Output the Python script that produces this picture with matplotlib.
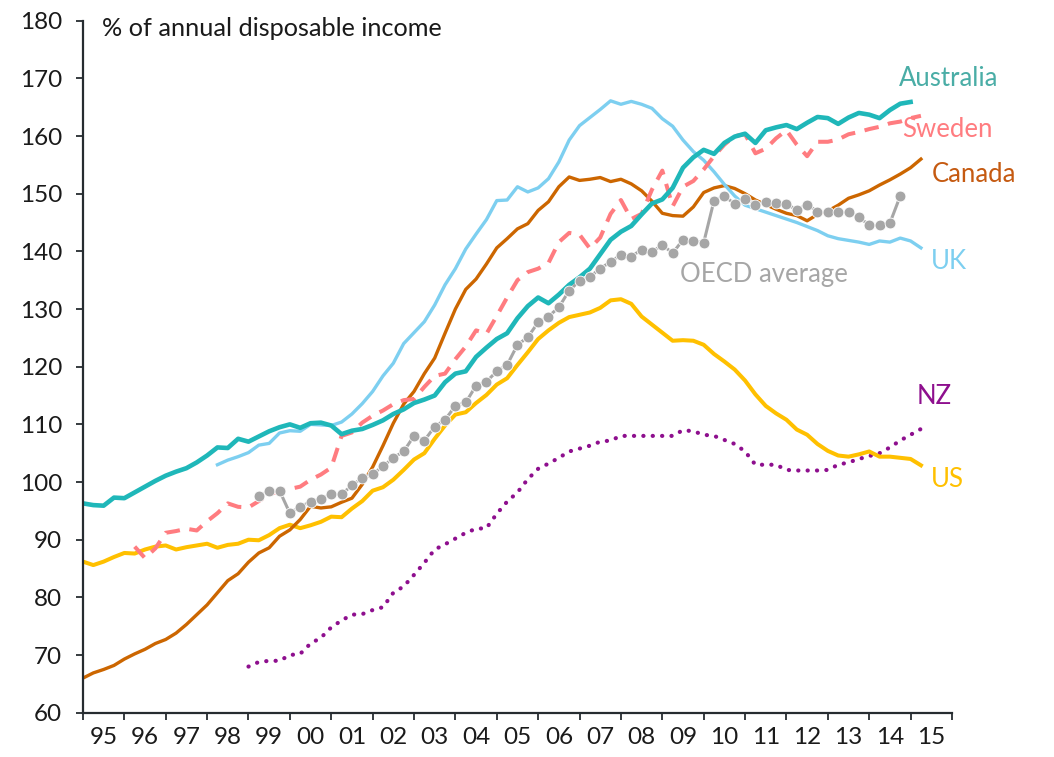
import matplotlib
matplotlib.use("Agg")
import matplotlib.pyplot as plt
import matplotlib.ticker as ticker
import numpy as np

plt.rcParams['font.family'] = ['Lato', 'DejaVu Sans']

# quarterly data, first quarter of each series given by its start year
australia_start = 1995.0
australia = [96.3, 96.0, 95.9, 97.3, 97.2, 98.2, 99.2, 100.2, 101.1, 101.8, 102.4, 103.4,
             104.6, 106.0, 105.9, 107.5, 107.0, 107.9, 108.8, 109.5, 110.0, 109.4, 110.2, 110.3,
             109.8, 108.3, 108.9, 109.2, 109.9, 110.7, 111.8, 112.6, 113.7, 114.3, 115.0, 117.3,
             118.8, 119.2, 121.7, 123.3, 124.8, 125.8, 128.4, 130.5, 132.0, 131.0, 132.5, 134.2,
             135.5, 137.0, 139.5, 142.0, 143.4, 144.4, 146.4, 148.3, 149.0, 151.0, 154.5, 156.3,
             157.6, 156.9, 158.8, 159.9, 160.4, 158.8, 161.0, 161.5, 161.9, 161.2, 162.3, 163.3,
             163.1, 162.1, 163.2, 164.0, 163.7, 163.1, 164.5, 165.6, 165.9]

uk_start = 1998.25
uk = [103.0, 103.8, 104.4, 105.1, 106.4, 106.7, 108.5, 108.9, 108.8, 110.0, 109.9, 109.8,
      110.4, 111.8, 113.6, 115.7, 118.4, 120.6, 124.0, 125.9, 127.8, 130.7, 134.2, 137.0,
      140.4, 143.0, 145.5, 148.8, 148.9, 151.2, 150.3, 151.0, 152.6, 155.5, 159.3, 161.8,
      163.2, 164.6, 166.1, 165.5, 166.0, 165.5, 164.8, 163.0, 161.7, 159.3, 157.3, 155.8,
      153.8, 151.6, 149.6, 148.0, 147.4, 146.8, 146.2, 145.6, 145.0, 144.3, 143.6, 142.7,
      142.2, 141.9, 141.6, 141.2, 141.8, 141.6, 142.3, 141.8, 140.6]

canada_start = 1995.0
canada = [66.0, 66.9, 67.5, 68.2, 69.3, 70.2, 71.0, 72.0, 72.7, 73.8, 75.3, 77.0,
          78.7, 80.8, 82.9, 84.1, 86.1, 87.7, 88.6, 90.6, 91.7, 93.5, 95.8, 95.5,
          95.7, 96.5, 97.2, 99.6, 102.6, 106.3, 110.2, 113.5, 115.7, 118.8, 121.5, 125.8,
          130.0, 133.4, 135.2, 137.8, 140.6, 142.2, 143.9, 144.8, 147.1, 148.6, 151.2, 152.9,
          152.3, 152.5, 152.8, 152.1, 152.5, 151.7, 150.5, 148.7, 146.6, 146.2, 146.1, 147.7,
          150.2, 151.0, 151.4, 150.9, 150.0, 148.9, 148.1, 147.3, 146.6, 146.2, 145.3, 146.4,
          147.0, 148.0, 149.2, 149.8, 150.5, 151.5, 152.4, 153.4, 154.5, 156.0]

us_start = 1995.0
us = [86.2, 85.6, 86.2, 87.0, 87.7, 87.6, 88.3, 88.8, 89.0, 88.3, 88.7, 89.0,
      89.3, 88.6, 89.1, 89.3, 90.0, 89.9, 90.8, 92.0, 92.6, 92.0, 92.5, 93.1,
      94.0, 93.9, 95.4, 96.7, 98.5, 99.1, 100.4, 102.1, 103.9, 105.0, 107.5, 109.8,
      111.7, 112.1, 113.7, 115.1, 116.9, 118.0, 120.3, 122.5, 124.8, 126.3, 127.6, 128.6,
      129.0, 129.4, 130.2, 131.5, 131.7, 130.9, 128.7, 127.3, 125.9, 124.5, 124.6, 124.5,
      123.8, 122.2, 120.9, 119.5, 117.6, 115.2, 113.2, 111.9, 110.8, 109.1, 108.2, 106.6,
      105.4, 104.6, 104.4, 104.8, 105.3, 104.4, 104.4, 104.2, 104.0, 102.9]

sweden_start = 1996.25
sweden = [88.8, 86.8, 88.5, 91.2, 91.5, 91.9, 91.6, 93.2, 94.6, 96.3, 95.7, 95.6,
          96.7, 97.8, 98.5, 98.8, 99.2, 100.4, 101.3, 102.5, 108.0, 108.6, 110.3, 111.5,
          112.4, 113.5, 114.2, 114.4, 116.5, 118.4, 118.8, 121.3, 123.5, 126.3, 125.7, 128.8,
          132.0, 135.0, 136.4, 137.0, 138.0, 141.6, 143.2, 142.9, 140.5, 142.4, 146.5, 148.9,
          145.6, 146.5, 150.7, 154.0, 147.8, 151.2, 152.2, 154.2, 156.5, 158.5, 160.0, 160.3,
          157.0, 157.8, 159.6, 161.0, 158.5, 156.5, 159.0, 159.0, 159.4, 160.3, 160.7, 161.2,
          161.6, 162.2, 162.5, 163.1, 163.5]

oecd_start = 1999.25
oecd = [97.5, 98.5, 98.5, 94.6, 95.7, 96.6, 97.1, 97.9, 97.9, 99.4, 100.7, 101.4,
        102.7, 104.2, 105.3, 108.0, 107.2, 109.6, 110.8, 113.2, 113.8, 116.7, 117.4, 119.2,
        120.3, 123.8, 125.1, 127.7, 128.7, 130.3, 133.2, 134.9, 135.6, 137.0, 138.2, 139.4,
        139.1, 140.3, 139.9, 141.1, 139.7, 142.0, 141.8, 141.5, 148.8, 149.6, 148.2, 149.1,
        148.1, 148.6, 148.4, 148.2, 147.2, 148.1, 146.9, 146.8, 146.8, 146.8, 146.0, 144.5,
        144.5, 144.9, 149.6]

nz_start = 1999.0
nz = [68.0, 68.8, 69.0, 69.0, 70.0, 70.2, 72.0, 73.0, 74.8, 76.0, 77.0, 77.1,
      77.8, 78.3, 80.8, 81.9, 83.9, 86.0, 88.3, 89.2, 90.2, 91.2, 91.9, 92.0,
      94.5, 96.6, 98.2, 100.5, 102.3, 103.2, 104.2, 105.3, 105.8, 106.3, 107.0, 107.2,
      108.0, 108.0, 108.0, 108.0, 108.0, 108.0, 109.0, 108.8, 108.2, 108.0, 107.3, 106.6,
      105.3, 103.0, 103.0, 103.0, 102.1, 102.0, 102.0, 102.0, 102.1, 103.0, 103.4, 104.0,
      104.5, 105.0, 106.0, 107.2, 108.2, 109.2]

year_labels = ['95', '96', '97', '98', '99', '00', '01', '02', '03', '04', '05',
               '06', '07', '08', '09', '10', '11', '12', '13', '14', '15']


def qx(start, values):
    return start + 0.25 * np.arange(len(values))


fig = plt.figure(figsize=(10.54, 7.57), dpi=100)
ax = fig.add_axes([0.0787, 0.0585, 0.8245, 0.9142])

ax.plot(qx(nz_start, nz), nz, color='#8E0F8E', lw=3.0,
        linestyle=(0, (0.05, 2.2)), dash_capstyle='round')
ax.plot(qx(us_start, us), us, color='#FFC000', lw=2.9)
ax.plot(qx(canada_start, canada), canada, color='#CC6600', lw=2.4)
ax.plot(qx(uk_start, uk), uk, color='#7DCFF0', lw=2.4)
ax.plot(qx(sweden_start, sweden), sweden, color='#FF7C80', lw=2.9,
        linestyle=(0, (3.6, 2.4)))
ax.plot(qx(australia_start, australia), australia, color='#1FB7B9', lw=3.3)
ax.plot(qx(oecd_start, oecd), oecd, color='#A6A6A6', lw=2.2, marker='o',
        markersize=7.8, markeredgecolor='white', markeredgewidth=0.6)

txt = dict(fontsize=18.5, va='center', ha='left')
ax.text(2014.71, 169.9, 'Australia', color='#4AADA6', **txt)
ax.text(2014.80, 161.1, 'Sweden', color='#FF7C80', **txt)
ax.text(2015.50, 153.4, 'Canada', color='#C55A11', **txt)
ax.text(2015.49, 138.2, 'UK', color='#7DCFF0', **txt)
ax.text(2009.42, 135.9, 'OECD average', color='#A6A6A6', **txt)
ax.text(2015.15, 114.8, 'NZ', color='#8E0F8E', **txt)
ax.text(2015.50, 100.4, 'US', color='#FFC000', **txt)
ax.text(1995.45, 178.7, '% of annual disposable income', color='#1A1A1A',
        fontsize=18.2, va='center', ha='left')

ax.set_xlim(1995, 2016)
ax.set_ylim(60, 180)
ax.yaxis.set_major_locator(ticker.MultipleLocator(10))
ax.xaxis.set_major_locator(ticker.FixedLocator(np.arange(1995, 2017)))
ax.xaxis.set_minor_locator(ticker.FixedLocator(np.arange(1995, 2016) + 0.5))
ax.xaxis.set_major_formatter(ticker.NullFormatter())
ax.xaxis.set_minor_formatter(ticker.FixedFormatter(year_labels))

axis_col = '#262C30'
for side in ['top', 'right']:
    ax.spines[side].set_visible(False)
for side in ['left', 'bottom']:
    ax.spines[side].set_color(axis_col)
    ax.spines[side].set_linewidth(1.6)
ax.tick_params(axis='both', which='major', direction='out', length=5, width=1.3,
               color=axis_col, labelsize=17.5, labelcolor='#1A1A1A')
ax.tick_params(axis='y', pad=10)
ax.tick_params(axis='x', which='minor', length=0, pad=10, labelsize=17.5,
               labelcolor='#1A1A1A')

fig.savefig('out.png', dpi=100)
